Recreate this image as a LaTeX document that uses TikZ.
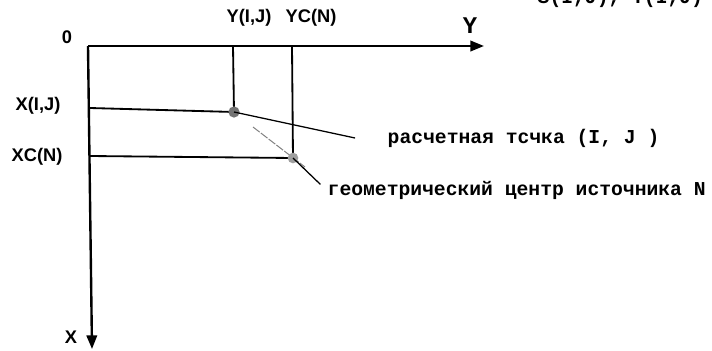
\documentclass[tikz,border=0pt]{standalone}
\usepackage{fontspec}
\setmainfont{Liberation Sans}
\newfontfamily\typew{Liberation Mono}
\usetikzlibrary{positioning,arrows.meta}

\begin{document}
\begin{tikzpicture}[x=0.025cm, y=-0.025cm,
  hand/.style={font=\bfseries\fontsize{13}{15}\selectfont, inner sep=1pt},
  typ/.style={font=\typew\bfseries\fontsize{14}{16}\selectfont, inner sep=1pt, anchor=west},
  axis/.style={line width=1.7pt, -{Triangle[length=3.4mm, width=2.6mm]}},
  ln/.style={line width=1.3pt},
  lead/.style={line width=0.9pt},
  dot/.style={fill=gray!75}]
  \useasboundingbox (0,0) rectangle (712,350);
  % axes
  \coordinate (O) at (88,46);
  \coordinate (yend) at (484,46);
  \coordinate (xend) at (92,349);
  \draw[axis] (O) -- (yend);
  \draw[axis] (O) -- (xend);
  \node[hand] (o)  at (67,37)  {0};
  \node[font=\typew\bfseries\fontsize{17}{19}\selectfont] (ylab) at (470,26) {Y};
  \node[hand] (xlab) at (71,337) {X};
  % points
  \coordinate (P1) at (234,112);
  \coordinate (P2) at (293,158);
  \coordinate (y1) at (233,46);
  \coordinate (y2) at (292,46);
  \coordinate (x1) at (90,108);
  \coordinate (x2) at (90,156);
  \node[hand] (yij) at (249,18)  {Y(I,J)};
  \node[hand] (ycn) at (311,18)  {YC(N)};
  \node[hand] (xij) at (38,106)  {X(I,J)};
  \node[hand] (xcn) at (37,157)  {XC(N)};
  \draw[ln] (y1) -- (P1);
  \draw[ln] (y2) -- (P2);
  \draw[ln] (x1) -- (P1);
  \draw[ln] (x2) -- (P2);
  \draw[gray, line width=0.7pt, dash pattern=on 6pt off 1pt] (253,127) -- (305,167);
  \fill[dot, fill=gray!90!black] (P1) circle (4pt);
  \fill[dot] (P2) circle (3.8pt);
  % labels
  \node[typ] (calc) at (386,138) {расчетная тсчка (I, J )};
  \node[typ] (cent) at (326,190) {геометрический центр источника N};
  \draw[lead] (P1) -- ([xshift=-22pt]calc.west);
  \draw[lead] (P2) -- ([xshift=-4pt, yshift=4pt]cent.west);
  % cut-off heading
  \node[typ, anchor=base west] (head) at (536,3) {S(I,J), T(I,J)};
\end{tikzpicture}
\end{document}
